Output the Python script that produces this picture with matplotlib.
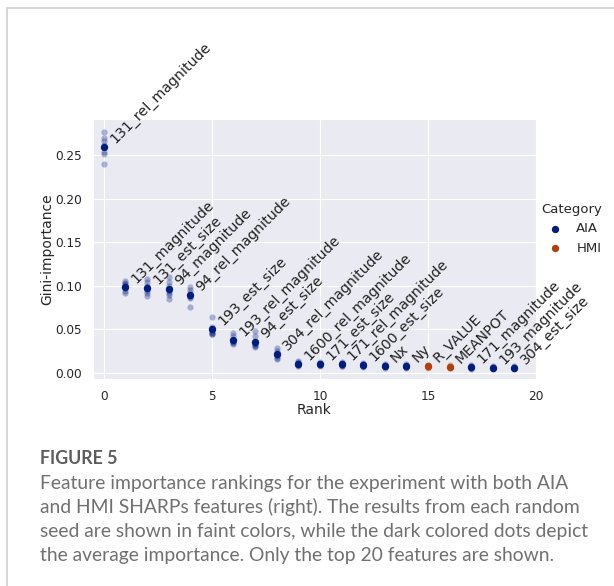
import numpy as np
import matplotlib
matplotlib.use("Agg")
import matplotlib.pyplot as plt
import seaborn as sns
from matplotlib.patches import Rectangle

features = ['131_rel_magnitude', '131_magnitude', '131_est_size', '94_magnitude',
            '94_rel_magnitude', '193_est_size', '193_rel_magnitude', '94_est_size',
            '304_rel_magnitude', '1600_rel_magnitude', '171_est_size', '171_rel_magnitude',
            '1600_est_size', 'Nx', 'Ny', 'R_VALUE', 'MEANPOT', '171_magnitude',
            '193_magnitude', '304_est_size']
category = ['AIA'] * 15 + ['HMI'] * 2 + ['AIA'] * 3

# gini importance of each feature for every random seed
seed_importance = [
    [0.277, 0.269, 0.266, 0.262, 0.259, 0.253, 0.251, 0.2395],
    [0.105, 0.103, 0.102, 0.100, 0.099, 0.097, 0.094, 0.091],
    [0.108, 0.104, 0.100, 0.098, 0.096, 0.094, 0.091, 0.088],
    [0.110, 0.104, 0.099, 0.096, 0.094, 0.092, 0.089, 0.085],
    [0.098, 0.095, 0.092, 0.089, 0.088, 0.087, 0.0855, 0.075],
    [0.064, 0.053, 0.051, 0.049, 0.047, 0.045, 0.044, 0.046],
    [0.046, 0.042, 0.038, 0.037, 0.036, 0.035, 0.034, 0.033],
    [0.048, 0.042, 0.036, 0.035, 0.033, 0.032, 0.031, 0.029],
    [0.028, 0.025, 0.022, 0.021, 0.020, 0.019, 0.017, 0.016],
    [0.0135, 0.012, 0.011, 0.0102, 0.0098, 0.0092, 0.0087, 0.0082],
    [0.0125, 0.0112, 0.0104, 0.0097, 0.0093, 0.0088, 0.0083, 0.0074],
    [0.0122, 0.0110, 0.0101, 0.0095, 0.0091, 0.0086, 0.0082, 0.0073],
    [0.0116, 0.0104, 0.0096, 0.0090, 0.0086, 0.0082, 0.0077, 0.0069],
    [0.0104, 0.0093, 0.0085, 0.0080, 0.0077, 0.0073, 0.0069, 0.0059],
    [0.0095, 0.0085, 0.0078, 0.0073, 0.0070, 0.0066, 0.0063, 0.0054],
    [0.0092, 0.0083, 0.0077, 0.0072, 0.0069, 0.0066, 0.0063, 0.0054],
    [0.0085, 0.0077, 0.0071, 0.0066, 0.0063, 0.0060, 0.0057, 0.0049],
    [0.0084, 0.0076, 0.0070, 0.0065, 0.0062, 0.0059, 0.0056, 0.0048],
    [0.0076, 0.0068, 0.0063, 0.0058, 0.0055, 0.0052, 0.0050, 0.0042],
    [0.0075, 0.0067, 0.0062, 0.0057, 0.0054, 0.0051, 0.0049, 0.0041],
]

caption_title = "FIGURE 5"
caption_lines = [
    "Feature importance rankings for the experiment with both AIA",
    "and HMI SHARPs features (right). The results from each random",
    "seed are shown in faint colors, while the dark colored dots depict",
    "the average importance. Only the top 20 features are shown.",
]

sns.set_style("darkgrid")
pal = sns.color_palette("dark")
colors = {'AIA': pal[0], 'HMI': pal[1]}

rank = np.arange(len(features))
seed_importance = np.array(seed_importance)
mean_importance = seed_importance.mean(axis=1)

fig = plt.figure(figsize=(6.14, 5.86), dpi=100)
ax = fig.add_axes([0.1515, 0.3527, 0.7215, 0.4437])

for i in rank:
    c = colors[category[i]]
    ax.scatter(np.full(seed_importance.shape[1], i), seed_importance[i],
               color=c, alpha=0.3, s=20, linewidths=0, zorder=2)
for cat in ['AIA', 'HMI']:
    idx = [i for i in rank if category[i] == cat]
    ax.scatter(rank[idx], mean_importance[idx], color=colors[cat], s=28,
               linewidths=0, label=cat, zorder=3)

for i in rank:
    ax.text(i + 0.15, mean_importance[i] + 0.0012, features[i], rotation=45,
            ha='left', va='bottom', fontsize=10.2, color='#222222')

ax.set_xlim(-0.5, 20)
ax.set_ylim(-0.0076, 0.291)
ax.set_xticks([0, 5, 10, 15, 20])
ax.set_yticks([0, 0.05, 0.10, 0.15, 0.20, 0.25])
ax.yaxis.set_major_formatter(matplotlib.ticker.FormatStrFormatter('%.2f'))
ax.tick_params(labelsize=8.7, colors='#262626', pad=4.5)
ax.set_xlabel("Rank", fontsize=10, color='#262626', labelpad=0)
ax.set_ylabel("Gini-importance", fontsize=10, color='#262626', labelpad=1)

leg = ax.legend(title="Category", frameon=False, loc='upper left',
                bbox_to_anchor=(0.985, 0.725), fontsize=9.5, title_fontsize=9.5,
                handletextpad=0.6)

# frame around the whole panel
fig.patches.append(Rectangle((7 / 614, -0.1), 1.2, 1 - 8 / 586 + 0.1,
                             transform=fig.transFigure, fill=False,
                             edgecolor='#cfcfcf', linewidth=1.2))

fig.text(40 / 614, 1 - 459 / 586, caption_title, fontsize=12.8, fontweight='bold',
         color='#5c5c5c', family='Lato', va='center')
for k, line in enumerate(caption_lines):
    fig.text(40 / 614, 1 - (483 + 24 * k) / 586, line, fontsize=13.85,
             color='#707070', family='Lato', va='center')

fig.savefig("out.png", dpi=100)
